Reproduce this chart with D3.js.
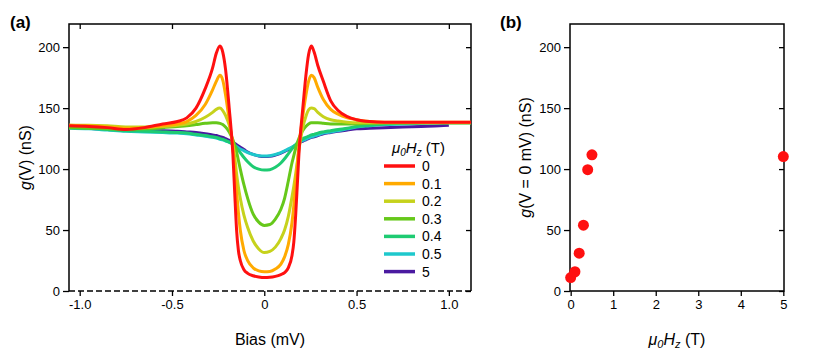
<!DOCTYPE html>
<html>
<head>
<meta charset="utf-8">
<script src="https://cdn.jsdelivr.net/npm/d3@7"></script>
<style>
  body { margin: 0; background: #fff; }
  svg { font-family: "Liberation Sans", Arial, Helvetica, sans-serif; }
  .axis path { display: none; }
  .axis line { stroke: #000; stroke-width: 1.3; }
  .axis text { font-size: 13px; fill: #000; }
  .frame { fill: none; stroke: #000; stroke-width: 1.5; }
</style>
</head>
<body>
<svg width="830" height="356"></svg>
<script>
// ---- data: panel (a), conductance spectra g(V) for each field ----
var bias = [
  -1.06, -0.95, -0.85, -0.75, -0.65, -0.55, -0.47, -0.42, -0.37, -0.32,
  -0.28, -0.26, -0.24, -0.225, -0.21, -0.19, -0.17, -0.16, -0.15, -0.14,
  -0.13, -0.11, -0.09, -0.06, -0.03, 0, 0.03, 0.06, 0.09, 0.11,
  0.13, 0.15, 0.16, 0.17, 0.18, 0.19, 0.2, 0.21, 0.225, 0.24,
  0.255, 0.27, 0.29, 0.32, 0.36, 0.4, 0.45, 0.5, 0.57, 0.65,
  0.75, 0.85, 0.95, 1.0, 1.12
];

var g0 = [
  135.5, 135, 134, 132.5, 134, 137, 139, 142, 150, 166,
  183, 195, 201, 196, 182, 150, 112, 80, 50, 33,
  25, 17.5, 14.5, 12.5, 11.5, 11, 11.2, 12, 13.5, 15,
  19, 29, 40, 62, 90, 118, 136, 152, 176, 194,
  201, 196, 185, 172, 156, 148, 143, 140.5, 139, 138.5,
  138.5, 138.5, 138.5, 138.5, 138.5
];
var g01 = [
  136, 135.5, 134.5, 133.5, 134, 135.5, 137, 139, 144, 153,
  165, 172, 177, 173, 161, 140, 118, 100, 82, 64,
  50, 33, 25, 19, 16.5, 15.8, 16, 18, 22, 28,
  38, 56, 70, 88, 106, 122, 134, 145, 160, 172,
  177, 175, 167, 157, 149, 145, 142, 140.5, 139, 138.5,
  138.5, 138.5, 138.5, 138.5, 138.5
];
var g02 = [
  136, 136, 135.5, 134.5, 134.5, 135, 136, 137, 139, 142.5,
  146.5, 149, 150, 148, 144, 136, 121, 110, 96, 85,
  76, 62, 52, 41, 34.5, 31.5, 32.5, 36, 43, 50,
  61, 77, 86, 96, 107, 118, 127, 135, 143, 148.5,
  150, 149.5, 146.5, 143, 140.5, 139.5, 138.5, 138, 138, 138,
  138, 138, 138, 138, 138
];
var g03 = [
  134, 133.5, 133, 132.5, 133, 134, 135, 135.5, 136.5, 137.5,
  138, 138, 137.5, 136.5, 134.5, 130.5, 124, 119.5, 114, 107,
  100, 87, 76, 63, 56.5, 53.8, 54.5, 59, 67, 76,
  90, 105, 111, 117, 122, 126, 129.5, 132, 135, 137,
  138, 138, 138, 137.5, 137, 137, 137, 137, 137.5, 138,
  138, 138, 138, 138, 138
];
var g04 = [
  134, 133.5, 132.5, 131.5, 131, 130.5, 130, 129.5, 128.5, 127.5,
  126.5, 126, 125, 124.5, 123.5, 122, 120.5, 119, 117.5, 115.5,
  113.5, 109.5, 106, 102, 100, 99.2, 99.5, 101.5, 105, 108.5,
  112.5, 116.5, 118.5, 120, 121.5, 123, 124, 125, 126, 127,
  128, 128.5, 129.5, 130.5, 131.5, 132.5, 133.5, 135, 136, 137,
  137.5, 138, 138, 138, 138
];
var g05 = [
  133.5, 133, 132, 131, 130.5, 130, 129.5, 129, 128, 127,
  126, 125.5, 124.5, 124, 123, 122, 120.5, 119.5, 118.5, 117.5,
  116.5, 115, 113.5, 112, 111, 110.7, 111, 112, 113.5, 115,
  116.5, 118, 119, 120, 121, 122, 123, 123.5, 124.5, 125.5,
  126.5, 127, 128, 129.5, 130.5, 131.5, 133, 134.5, 135.5, 136.5,
  137, 137.5, 138, 138, 138
];
var g5 = [
  null, 133.5, 132.5, 132, 131.5, 131.5, 131, 130.5, 130, 129,
  128, 127.5, 126.5, 126, 125, 123.5, 122, 121, 120, 119,
  118, 116, 114, 112, 110.8, 110.3, 110.5, 111.5, 113, 114.5,
  116, 117.5, 118.5, 119.5, 120.5, 121.5, 122.5, 123, 124, 125,
  126, 126.5, 127.5, 129, 130, 131, 132, 133, 133.5, 134,
  134.5, 135, 135.5, 136, null
];

var fieldLabels = ["0", "0.1", "0.2", "0.3", "0.4", "0.5", "5"];
var fieldColors = ["#ff1010", "#ffaa00", "#c6d21c", "#66c81a", "#1ecb72", "#1ec8cc", "#4a1aa0"];
var spectra = [g0, g01, g02, g03, g04, g05, g5];

// ---- data: panel (b), zero-bias conductance vs field ----
var fieldB = [0, 0.1, 0.2, 0.3, 0.4, 0.5, 5];
var gZero = [11, 15.8, 31, 54, 99.5, 111.7, 110.3];

// ticks
var biasTicks = [-1, -0.5, 0, 0.5, 1];
var gTicks = [0, 50, 100, 150, 200];
var fieldTicks = [0, 1, 2, 3, 4, 5];

var svg = d3.select("svg");
svg.append("rect").attr("width", 830).attr("height", 356).attr("fill", "#fff");

var xA = d3.scaleLinear().domain([-1.058, 1.12]).range([69, 471]),
  yA = d3.scaleLinear().domain([0, 219]).range([291, 24]),
  xB = d3.scaleLinear().domain([-0.016, 5.016]).range([570, 784]),
  yB = d3.scaleLinear().domain([0, 219]).range([291, 24]);

var fmtBias = function (d) { return d === 0 ? "0" : d.toFixed(1); };

// panel (a) axes
var pa = svg.append("g");
pa.append("g").attr("class", "axis").attr("transform", "translate(0,291)")
  .call(d3.axisBottom(xA).tickValues(biasTicks).tickSize(5).tickPadding(4).tickFormat(fmtBias));
pa.append("g").attr("class", "axis").attr("transform", "translate(0,24)")
  .call(d3.axisTop(xA).tickValues(biasTicks).tickSize(-5).tickFormat(""));
pa.append("g").attr("class", "axis").attr("transform", "translate(69,0)")
  .call(d3.axisLeft(yA).tickValues(gTicks).tickSize(6).tickPadding(3));
pa.append("g").attr("class", "axis").attr("transform", "translate(471,0)")
  .call(d3.axisRight(yA).tickValues(gTicks).tickSize(-5).tickFormat(""));

// frame: bottom edge dashed
pa.append("path").attr("class", "frame")
  .attr("d", "M69,291V24H471V291");
pa.append("line").attr("class", "frame")
  .attr("x1", 69).attr("x2", 471).attr("y1", 291).attr("y2", 291)
  .attr("stroke-dasharray", "6,3");

// spectra, 5 T drawn first so 0 T ends on top
var line = d3.line()
  .defined(function (d) { return d[1] !== null; })
  .x(function (d) { return xA(d[0]); })
  .y(function (d) { return yA(d[1]); })
  .curve(d3.curveMonotoneX);

svg.append("clipPath").attr("id", "clipA").append("rect")
  .attr("x", 69).attr("y", 24).attr("width", 402).attr("height", 267);

var curves = pa.append("g").attr("clip-path", "url(#clipA)");
for (var i = spectra.length - 1; i >= 0; i--) {
  curves.append("path")
    .datum(bias.map(function (v, j) { return [v, spectra[i][j]]; }))
    .attr("fill", "none")
    .attr("stroke", fieldColors[i])
    .attr("stroke-width", 3)
    .attr("stroke-linejoin", "round")
    .attr("d", line);
}

// legend
var legend = pa.append("g");
var lt = legend.append("text").attr("x", 392).attr("y", 153).attr("font-size", 15);
lt.append("tspan").attr("font-style", "italic").text("μ");
lt.append("tspan").attr("font-style", "italic").attr("font-size", 10).attr("dy", 3).text("0");
lt.append("tspan").attr("font-style", "italic").attr("dy", -3).text("H");
lt.append("tspan").attr("font-style", "italic").attr("font-size", 10).attr("dy", 3).text("z");
lt.append("tspan").attr("dy", -3).text(" (T)");

var items = legend.selectAll("g.item").data(fieldLabels).enter().append("g")
  .attr("transform", function (d, i) { return "translate(0," + (166 + i * 17.6) + ")"; });
items.append("line").attr("x1", 384).attr("x2", 415)
  .attr("stroke", function (d, i) { return fieldColors[i]; })
  .attr("stroke-width", 3.5);
items.append("text").attr("x", 422).attr("dy", "0.36em").attr("font-size", 14)
  .text(function (d) { return d; });

// axis titles (a)
var yt = pa.append("text").attr("transform", "translate(31,157.5) rotate(-90)")
  .attr("text-anchor", "middle").attr("font-size", 16);
yt.append("tspan").attr("font-style", "italic").text("g");
yt.append("tspan").text("(V) (nS)");
pa.append("text").attr("x", 270).attr("y", 345).attr("text-anchor", "middle")
  .attr("font-size", 16).text("Bias (mV)");
pa.append("text").attr("x", 10).attr("y", 28).attr("font-size", 17)
  .attr("font-weight", "bold").text("(a)");

// panel (b)
var pb = svg.append("g");
pb.append("g").attr("class", "axis").attr("transform", "translate(0,291)")
  .call(d3.axisBottom(xB).tickValues(fieldTicks).tickSize(5).tickPadding(4).tickFormat(d3.format("d")));
pb.append("g").attr("class", "axis").attr("transform", "translate(570,0)")
  .call(d3.axisLeft(yB).tickValues(gTicks).tickSize(6).tickPadding(3));
pb.append("g").attr("class", "axis").attr("transform", "translate(784,0)")
  .call(d3.axisRight(yB).tickValues(gTicks).tickSize(-5).tickFormat(""));
pb.append("rect").attr("class", "frame")
  .attr("x", 570).attr("y", 24).attr("width", 214).attr("height", 267);

pb.selectAll("circle").data(fieldB).enter().append("circle")
  .attr("cx", function (d) { return xB(d); })
  .attr("cy", function (d, i) { return yB(gZero[i]); })
  .attr("r", 5.5)
  .attr("fill", "#ff1010");

var yt2 = pb.append("text").attr("transform", "translate(531,157.5) rotate(-90)")
  .attr("text-anchor", "middle").attr("font-size", 16);
yt2.append("tspan").attr("font-style", "italic").text("g");
yt2.append("tspan").text("(V = 0 mV) (nS)");

var xt2 = pb.append("text").attr("x", 677).attr("y", 345).attr("text-anchor", "middle").attr("font-size", 16);
xt2.append("tspan").attr("font-style", "italic").text("μ");
xt2.append("tspan").attr("font-style", "italic").attr("font-size", 11).attr("dy", 3).text("0");
xt2.append("tspan").attr("font-style", "italic").attr("dy", -3).text("H");
xt2.append("tspan").attr("font-style", "italic").attr("font-size", 11).attr("dy", 3).text("z");
xt2.append("tspan").attr("dy", -3).text(" (T)");

pb.append("text").attr("x", 500).attr("y", 28).attr("font-size", 17)
  .attr("font-weight", "bold").text("(b)");
</script>
</body>
</html>
